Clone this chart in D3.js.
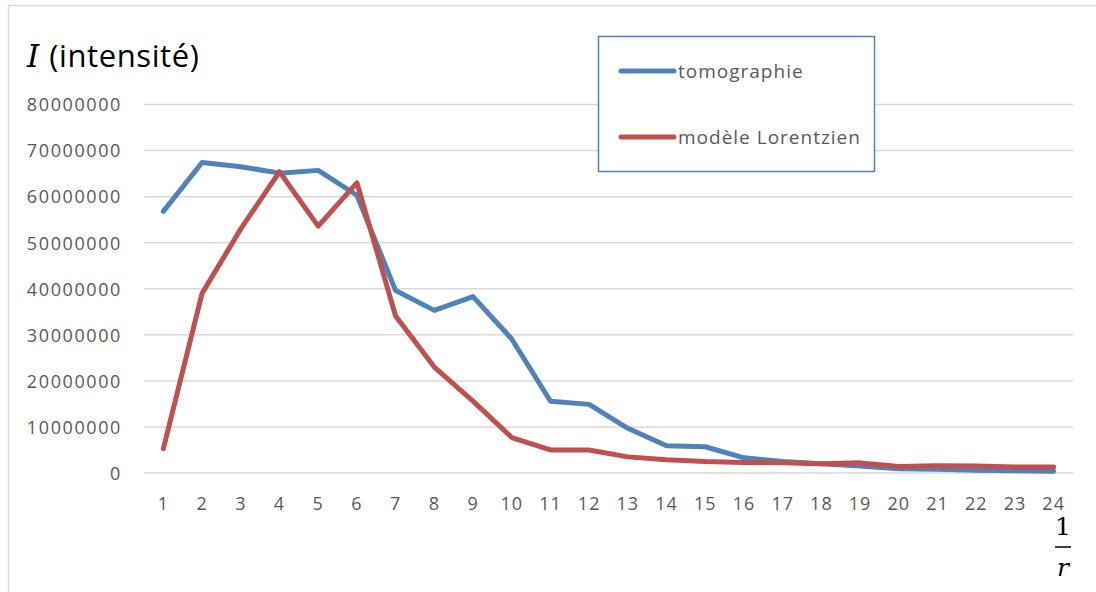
<!DOCTYPE html>
<html>
<head>
<meta charset="utf-8">
<script src="https://cdn.jsdelivr.net/npm/d3@7"></script>
<style>
  html, body { margin: 0; padding: 0; background: #fff; }
  svg { display: block; }
</style>
</head>
<body>
<svg id="chart" width="1096" height="592"></svg>
<script>
// Inverse radius index 1/r
const categories = d3.range(1, 25);

// Measured intensity (tomography)
const tomographie = [
  56800000, 67400000, 66500000, 65100000, 65700000, 60300000,
  39600000, 35300000, 38300000, 29100000, 15600000, 14900000,
  9700000, 5900000, 5700000, 3300000, 2500000, 2000000,
  1500000, 900000, 800000, 600000, 500000, 400000
];

// Lorentzian model intensity
const lorentzien = [
  5300000, 39000000, 53000000, 65400000, 53600000, 63000000,
  34100000, 23000000, 15600000, 7700000, 5000000, 5000000,
  3500000, 2900000, 2500000, 2300000, 2200000, 2000000,
  2200000, 1400000, 1600000, 1500000, 1300000, 1300000
];

const yTicks = [0, 10000000, 20000000, 30000000, 40000000, 50000000, 60000000, 70000000, 80000000];

const seriesNames = ["tomographie", "modèle Lorentzien"];
const seriesColors = ["#4F81BD", "#C0504D"];

const svg = d3.select("#chart");
const font = "'Open Sans', Calibri, sans-serif";

// Chart frame
svg.append("path")
  .attr("d", "M8.5,592 V5.5 H1096")
  .attr("fill", "none")
  .attr("stroke", "#D9D9D9")
  .attr("stroke-width", 1.5);

const plot = { left: 144, right: 1073, top: 104.5, bottom: 473 };

const x = d3.scaleBand()
  .domain(categories)
  .range([plot.left, plot.right]);

const y = d3.scaleLinear()
  .domain([0, 80000000])
  .range([plot.bottom, plot.top]);

// Horizontal gridlines
svg.append("g")
  .selectAll("line")
  .data(yTicks)
  .join("line")
  .attr("x1", plot.left)
  .attr("x2", plot.right)
  .attr("y1", d => y(d))
  .attr("y2", d => y(d))
  .attr("stroke", "#D9D9D9")
  .attr("stroke-width", 1.5);

// Y axis labels
const yAxis = d3.axisLeft(y)
  .tickValues(yTicks)
  .tickFormat(d3.format("d"))
  .tickSize(0)
  .tickPadding(0);

svg.append("g")
  .attr("transform", "translate(122,0)")
  .call(yAxis)
  .call(g => g.select(".domain").remove())
  .call(g => g.selectAll("text")
    .attr("fill", "#595959")
    .attr("font-family", font)
    .attr("font-size", 18)
    .attr("letter-spacing", 1.6)
    .attr("dy", "0.35em"));

// X axis labels
const xAxis = d3.axisBottom(x)
  .tickSize(0)
  .tickPadding(0);

svg.append("g")
  .attr("transform", `translate(0,${plot.bottom + 31})`)
  .call(xAxis)
  .call(g => g.select(".domain").remove())
  .call(g => g.selectAll("text")
    .attr("fill", "#595959")
    .attr("font-family", font)
    .attr("font-size", 18)
    .attr("letter-spacing", 1)
    .attr("dy", "0.35em")
    .attr("y", 0));

// Data lines
const line = d3.line()
  .x((d, i) => x(categories[i]) + x.bandwidth() / 2)
  .y(d => y(d));

[tomographie, lorentzien].forEach((series, k) => {
  svg.append("path")
    .datum(series)
    .attr("fill", "none")
    .attr("stroke", seriesColors[k])
    .attr("stroke-width", 5)
    .attr("stroke-linejoin", "round")
    .attr("stroke-linecap", "round")
    .attr("d", line);
});

// Axis title: I (intensité)
const title = svg.append("text")
  .attr("x", 27)
  .attr("y", 67)
  .attr("fill", "#000")
  .attr("font-size", 31);
title.append("tspan")
  .attr("font-family", "'DejaVu Serif', 'Liberation Serif', serif")
  .attr("font-style", "italic")
  .text("I");
title.append("tspan")
  .attr("dx", 10)
  .attr("font-family", font)
  .attr("letter-spacing", 0.6)
  .text("(intensité)");

// Axis title: 1/r fraction
const fx = 1063;
svg.append("text")
  .attr("x", fx)
  .attr("y", 535)
  .attr("text-anchor", "middle")
  .attr("font-family", "'DejaVu Serif', 'Liberation Serif', serif")
  .attr("font-size", 25)
  .text("1");
svg.append("line")
  .attr("x1", fx - 8).attr("x2", fx + 8)
  .attr("y1", 547).attr("y2", 547)
  .attr("stroke", "#000")
  .attr("stroke-width", 1.5);
svg.append("text")
  .attr("x", fx)
  .attr("y", 576)
  .attr("text-anchor", "middle")
  .attr("font-family", "'DejaVu Serif', 'Liberation Serif', serif")
  .attr("font-style", "italic")
  .attr("font-size", 25)
  .text("r");

// Legend
const legend = svg.append("g");
legend.append("rect")
  .attr("x", 598.5)
  .attr("y", 36.5)
  .attr("width", 276)
  .attr("height", 135)
  .attr("fill", "#fff")
  .attr("stroke", "#4F81BD")
  .attr("stroke-width", 1.5);

const legendRows = [71, 137];
seriesNames.forEach((name, k) => {
  legend.append("line")
    .attr("x1", 621).attr("x2", 674)
    .attr("y1", legendRows[k]).attr("y2", legendRows[k])
    .attr("stroke", seriesColors[k])
    .attr("stroke-width", 5)
    .attr("stroke-linecap", "round");
  legend.append("text")
    .attr("x", 678)
    .attr("y", legendRows[k])
    .attr("dy", "0.35em")
    .attr("fill", "#595959")
    .attr("font-family", font)
    .attr("font-size", 19)
    .attr("letter-spacing", 1)
    .text(name);
});
</script>
</body>
</html>
